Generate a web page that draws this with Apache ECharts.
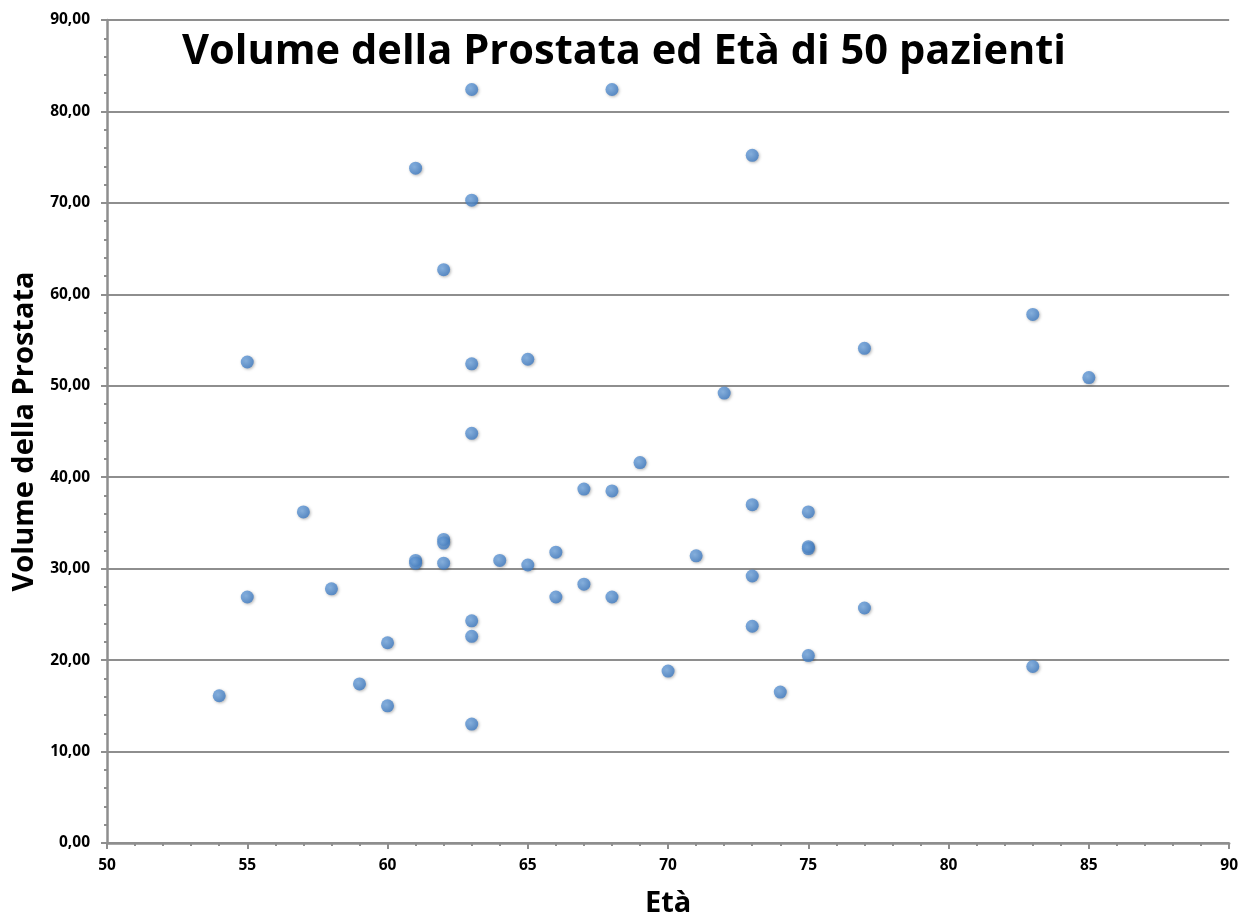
<!DOCTYPE html>
<html>
<head>
<meta charset="utf-8">
<script src="https://cdn.jsdelivr.net/npm/echarts@6/dist/echarts.min.js"></script>
<style>
  html, body { margin: 0; padding: 0; background: #fff; }
  #chart { width: 1241px; height: 923px; }
</style>
</head>
<body>
<div id="chart"></div>
<script>
// Età dei pazienti e volume della prostata
var eta = [54, 55, 55, 57, 58, 59, 60, 60, 61, 61, 61, 62, 62, 62, 62,
  63, 63, 63, 63, 63, 63, 63, 64, 65, 65, 66, 66, 67, 67, 68, 68, 68,
  69, 70, 71, 72, 73, 73, 73, 73, 74, 75, 75, 75, 75, 77, 77, 83, 83, 85];
var volume = [16.1, 52.6, 26.9, 36.2, 27.8, 17.4, 21.9, 15.0, 73.8, 30.9, 30.6,
  62.7, 33.2, 32.8, 30.6, 82.4, 70.3, 52.4, 44.8, 24.3, 22.6, 13.0, 30.9,
  52.9, 30.4, 31.8, 26.9, 38.7, 28.3, 82.4, 38.5, 26.9, 41.6, 18.8, 31.4,
  49.2, 75.2, 37.0, 29.2, 23.7, 16.5, 36.2, 32.4, 32.2, 20.5, 54.1, 25.7,
  57.8, 19.3, 50.9];

var titolo = 'Volume della Prostata ed Età di 50 pazienti';
var nomeX = 'Età';
var nomeY = 'Volume della Prostata';

var punti = [];
for (var i = 0; i < eta.length; i++) {
  punti.push([eta[i], volume[i]]);
}

var chart = echarts.init(document.getElementById('chart'));
var font = '"Open Sans", "Liberation Sans", sans-serif';
var grigio = '#8e8e8e';

var option = {
  animation: false,
  title: {
    text: titolo,
    left: 619,
    top: 26,
    textAlign: 'center',
    textStyle: { fontFamily: font, fontSize: 41.6, fontWeight: 'bold', color: '#000' }
  },
  grid: { left: 107, right: 9, top: 20, bottom: 74 },
  xAxis: {
    type: 'value',
    min: 50, max: 90, interval: 5,
    name: nomeX,
    nameLocation: 'middle',
    nameGap: 46,
    nameTextStyle: { fontFamily: font, fontSize: 29, fontWeight: 'bold', color: '#000' },
    axisLine: { lineStyle: { color: grigio, width: 2.5 } },
    axisTick: { show: true, length: 6, lineStyle: { color: grigio, width: 2 } },
    minorTick: { show: true, splitNumber: 5, length: 3, lineStyle: { color: grigio, width: 2 } },
    splitLine: { show: false },
    axisLabel: { fontFamily: font, fontSize: 15.5, fontWeight: 'bold', color: '#000', margin: 15 }
  },
  yAxis: {
    type: 'value',
    min: 0, max: 90, interval: 10,
    name: nomeY,
    nameLocation: 'middle',
    nameGap: 65,
    nameTextStyle: { fontFamily: font, fontSize: 29, fontWeight: 'bold', color: '#000' },
    axisLine: { show: true, lineStyle: { color: grigio, width: 2.5 } },
    axisTick: { show: true, length: 6, lineStyle: { color: grigio, width: 2 } },
    minorTick: { show: true, splitNumber: 5, length: 3, lineStyle: { color: grigio, width: 2 } },
    splitLine: { show: true, lineStyle: { color: grigio, width: 2 } },
    axisLabel: {
      fontFamily: font, fontSize: 15.5, fontWeight: 'bold', color: '#000', margin: 17,
      formatter: function (v) { return v.toFixed(2).replace('.', ','); }
    }
  },
  series: [{
    type: 'scatter',
    data: punti,
    symbol: 'circle',
    symbolSize: 13,
    itemStyle: {
      color: new echarts.graphic.RadialGradient(0.4, 0.4, 0.6, [
        { offset: 0, color: '#78acE4' },
        { offset: 1, color: '#3f7cc4' }
      ]),
      shadowBlur: 3,
      shadowColor: 'rgba(0,0,0,0.35)',
      shadowOffsetX: 1,
      shadowOffsetY: 1
    }
  }]
};

chart.setOption(option);
</script>
</body>
</html>
